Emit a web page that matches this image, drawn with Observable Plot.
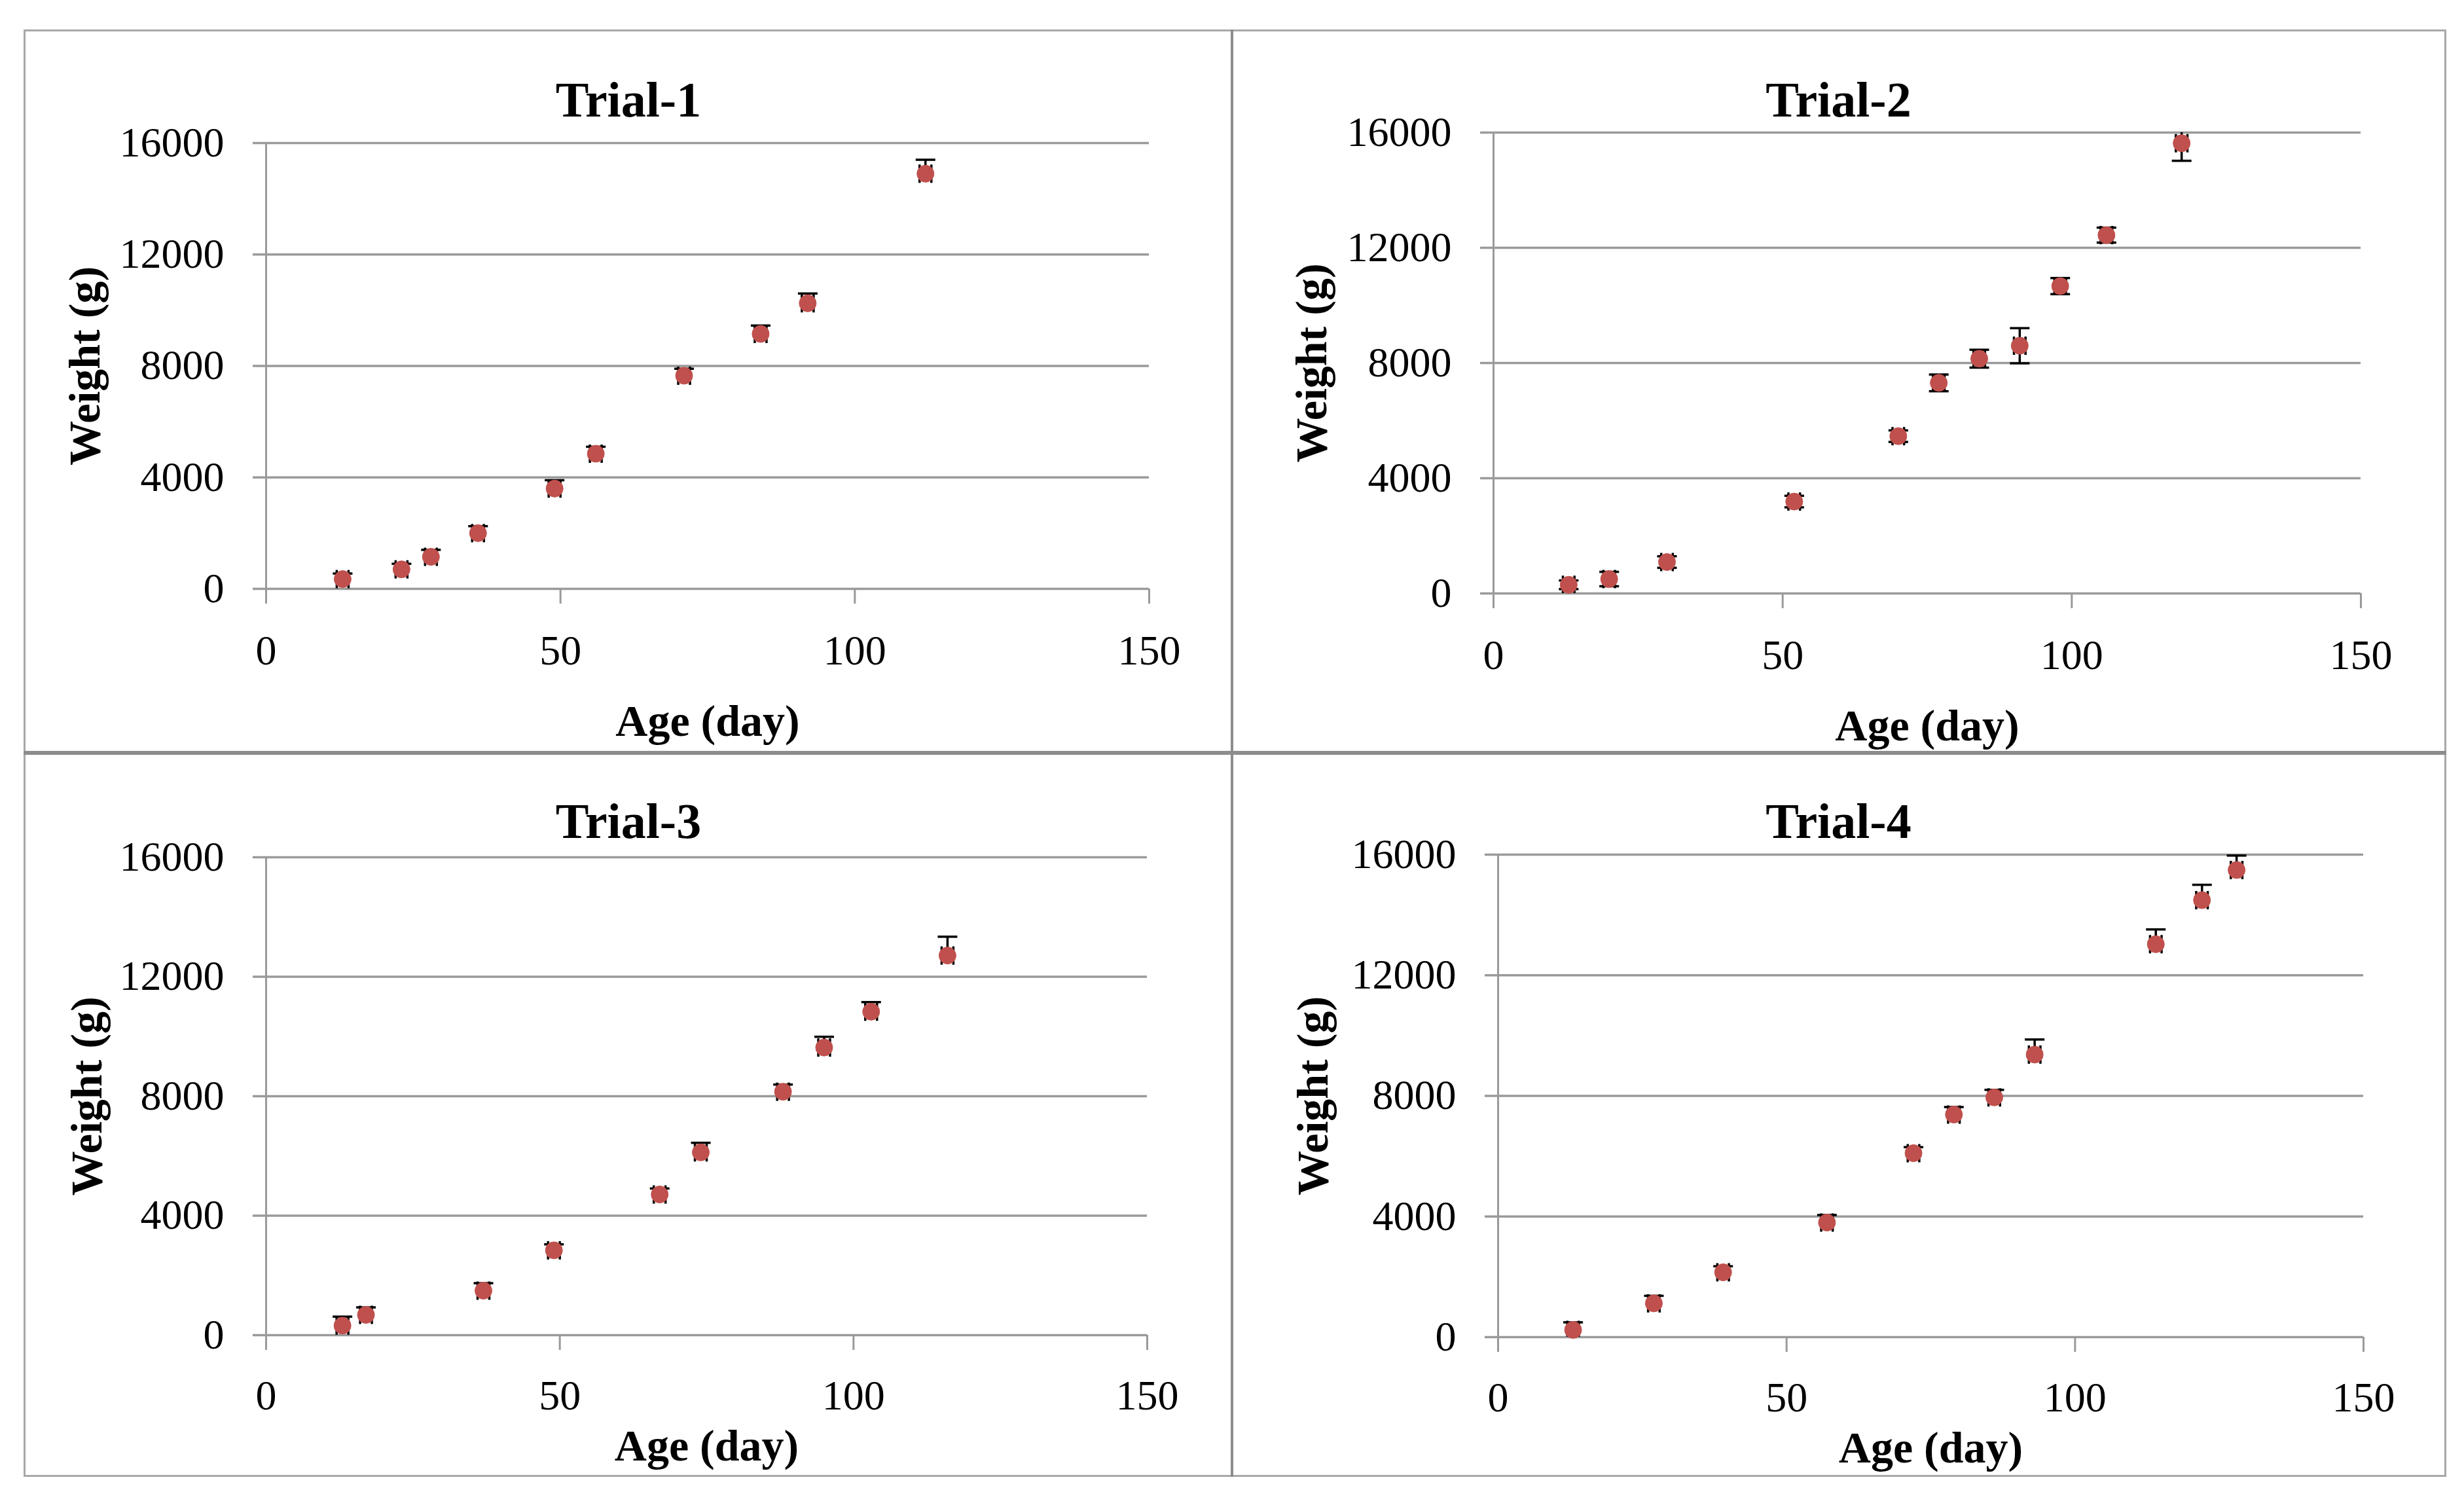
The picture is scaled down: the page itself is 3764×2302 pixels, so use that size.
<!DOCTYPE html>
<html>
<head>
<meta charset="utf-8">
<script src="https://cdn.jsdelivr.net/npm/d3@7"></script>
<script src="https://cdn.jsdelivr.net/npm/@observablehq/plot@0.6"></script>
<style>
  body { margin: 0; background: #fff; }
  #root { position: relative; width: 3764px; height: 2302px; background: #fff; overflow: hidden; font-family: "Liberation Serif", "DejaVu Serif", serif; }
  .panel { position: absolute; }
  .panel svg { position: absolute; left: 0; top: 0; }
  .title { position: absolute; left: 0; right: 0; text-align: center; font-weight: bold; font-size: 76px; line-height: 76px; color: #000; font-family: "Liberation Serif", serif; }
  .line { position: absolute; background: #8c8c8c; }
  .outer { position: absolute; border: 3px solid #a8a8a8; box-sizing: border-box; }
</style>
</head>
<body>
<div id="root"></div>
<script>
// ---------- data ----------
const trialNames = ["Trial-1", "Trial-2", "Trial-3", "Trial-4"];

const ageT1    = [13, 23, 28, 36, 49, 56, 71, 84, 92, 112];
const weightT1 = [350, 700, 1150, 2000, 3600, 4850, 7650, 9150, 10250, 14900];
const errT1    = [200, 200, 250, 250, 300, 250, 250, 300, 350, 500];
const xErrT1   = [1, 1, 1, 1, 1, 1, 1, 1, 1, 1];

const ageT2    = [13, 20, 30, 52, 70, 77, 84, 91, 98, 106, 119];
const weightT2 = [300, 500, 1090, 3190, 5460, 7310, 8150, 8600, 10670, 12440, 15630];
const errT2    = [150, 250, 200, 200, 200, 290, 310, 610, 280, 260, 610];
const xErrT2   = [1, 1, 1, 1, 1, 1, 1, 1, 1, 1, 1];

const ageT3    = [13, 17, 37, 49, 67, 74, 88, 95, 103, 116];
const weightT3 = [320, 680, 1490, 2840, 4710, 6120, 8150, 9630, 10830, 12710];
const errT3    = [300, 250, 250, 200, 200, 320, 240, 360, 320, 630];
const xErrT3   = [1, 1, 1, 1, 1, 1, 1, 1, 1, 1];

const ageT4    = [13, 27, 39, 57, 72, 79, 86, 93, 114, 122, 128];
const weightT4 = [240, 1120, 2150, 3800, 6100, 7380, 7950, 9370, 13030, 14490, 15490];
const errT4    = [250, 250, 200, 250, 200, 250, 250, 500, 490, 510, 480];
const xErrT4   = [1, 1, 1, 1, 1, 1, 1, 1, 1, 1, 1];

// error bar direction per trial ("plus" = upper only, "both" = ±)
const errModes = ["plus", "both", "plus", "plus"];

const xTicks = [0, 50, 100, 150];
const xTickLabels = ["0", "50", "100", "150"];
const yTicks = [0, 4000, 8000, 12000, 16000];
const yTickLabels = ["0", "4000", "8000", "12000", "16000"];

const xLabel = "Age (day)";
const yLabel = "Weight (g)";

// ---------- layout ----------
const layout = [
  {left: 38,   top: 47,   width: 1844, height: 1103, mL: 368, mR: 127, mT: 171, mB: 251, titleTop: 67, xLabDy: 203, yLabDx: -276, xPad: 47},
  {left: 1882, top: 47,   width: 1853, height: 1103, mL: 399, mR: 129, mT: 155, mB: 244, titleTop: 67, xLabDy: 203, yLabDx: -277, xPad: 47},
  {left: 38,   top: 1150, width: 1844, height: 1104, mL: 368, mR: 130, mT: 159, mB: 215, titleTop: 66, xLabDy: 170, yLabDx: -273, xPad: 45},
  {left: 1882, top: 1150, width: 1853, height: 1104, mL: 406, mR: 125, mT: 155, mB: 212, titleTop: 66, xLabDy: 170, yLabDx: -282, xPad: 45}
];

const series = [
  [ageT1, weightT1, errT1, xErrT1],
  [ageT2, weightT2, errT2, xErrT2],
  [ageT3, weightT3, errT3, xErrT3],
  [ageT4, weightT4, errT4, xErrT4]
];

const gridColor = "#9a9a9a";
const markerColor = "#C0504D";

// custom cap symbols (pixel-sized)
const hcap = {draw(ctx, size) { const r = Math.sqrt(size / Math.PI); ctx.moveTo(-r, 0); ctx.lineTo(r, 0); }};
const vcap = {draw(ctx, size) { const r = Math.sqrt(size / Math.PI); ctx.moveTo(0, -r); ctx.lineTo(0, r); }};

const root = document.getElementById("root");

// frame & dividers
const outer = document.createElement("div");
outer.className = "outer";
Object.assign(outer.style, {left: "36px", top: "45px", width: "3701px", height: "2211px"});
root.appendChild(outer);

series.forEach(([ages, weights, errs, xErrs], k) => {
  const L = layout[k];
  const mode = errModes[k];
  const data = ages.map((a, i) => ({
    age: a, w: weights[i], e: errs[i], xe: xErrs[i],
    lo: mode === "both" ? weights[i] - errs[i] : weights[i],
    hi: weights[i] + errs[i]
  }));
  const capPts = [];
  data.forEach(d => {
    capPts.push({age: d.age, v: d.hi});
    if (mode === "both") capPts.push({age: d.age, v: d.lo});
  });
  const xCapPts = [];
  data.forEach(d => {
    xCapPts.push({x: d.age - d.xe, w: d.w});
    xCapPts.push({x: d.age + d.xe, w: d.w});
  });

  const panel = document.createElement("div");
  panel.className = "panel";
  Object.assign(panel.style, {left: L.left + "px", top: L.top + "px", width: L.width + "px", height: L.height + "px"});

  const svg = Plot.plot({
    width: L.width,
    height: L.height,
    marginLeft: L.mL, marginRight: L.mR, marginTop: L.mT, marginBottom: L.mB,
    x: {domain: [0, 150]},
    y: {domain: [0, 16000]},
    style: {fontFamily: "Liberation Serif, serif", fontSize: "64px", color: "#000", background: "transparent", overflow: "visible"},
    marks: [
      Plot.ruleY(yTicks, {stroke: gridColor, strokeWidth: 3.5}),
      Plot.ruleX([0], {stroke: gridColor, strokeWidth: 3}),
      Plot.axisY({ticks: yTicks, tickFormat: d => yTickLabels[yTicks.indexOf(d)], tickSize: 20, tickPadding: 44,
                  stroke: gridColor, strokeWidth: 3.5, fill: "#000", fontSize: 64, label: null}),
      Plot.axisX({ticks: xTicks, tickFormat: d => xTickLabels[xTicks.indexOf(d)], tickSize: 23, tickPadding: L.xPad,
                  stroke: gridColor, strokeWidth: 3, fill: "#000", fontSize: 64, label: null}),
      // x error bars
      Plot.ruleY(data, {y: "w", x1: d => d.age - d.xe, x2: d => d.age + d.xe, stroke: "#000", strokeWidth: 3.5, clip: true}),
      Plot.dot(xCapPts, {x: "x", y: "w", symbol: vcap, r: 14, fill: "none", stroke: "#000", strokeWidth: 3.5, clip: true}),
      // y error bars
      Plot.ruleX(data, {x: "age", y1: "lo", y2: "hi", stroke: "#000", strokeWidth: 3.5, clip: true}),
      Plot.dot(capPts, {x: "age", y: "v", symbol: hcap, r: 15, fill: "none", stroke: "#000", strokeWidth: 3.5, clip: true}),
      // markers
      Plot.dot(data, {x: "age", y: "w", r: 13, fill: markerColor, stroke: markerColor, strokeWidth: 1}),
      // axis titles
      Plot.text([xLabel], {text: d => d, frameAnchor: "bottom", dy: L.xLabDy, lineAnchor: "middle",
                            fontWeight: "bold", fontSize: 68, fill: "#000"}),
      Plot.text([yLabel], {text: d => d, frameAnchor: "left", dx: L.yLabDx, rotate: -90, textAnchor: "middle", lineAnchor: "middle",
                            fontWeight: "bold", fontSize: 68, fill: "#000"})
    ]
  });
  panel.appendChild(svg);

  const title = document.createElement("div");
  title.className = "title";
  title.style.top = L.titleTop + "px";
  title.textContent = trialNames[k];
  panel.appendChild(title);

  root.appendChild(panel);
});

// dividers
const vdiv = document.createElement("div");
vdiv.className = "line";
Object.assign(vdiv.style, {left: "1880px", top: "45px", width: "4px", height: "2211px"});
root.appendChild(vdiv);
const hdiv = document.createElement("div");
hdiv.className = "line";
Object.assign(hdiv.style, {left: "36px", top: "1147px", width: "3701px", height: "6px"});
root.appendChild(hdiv);
</script>
</body>
</html>
